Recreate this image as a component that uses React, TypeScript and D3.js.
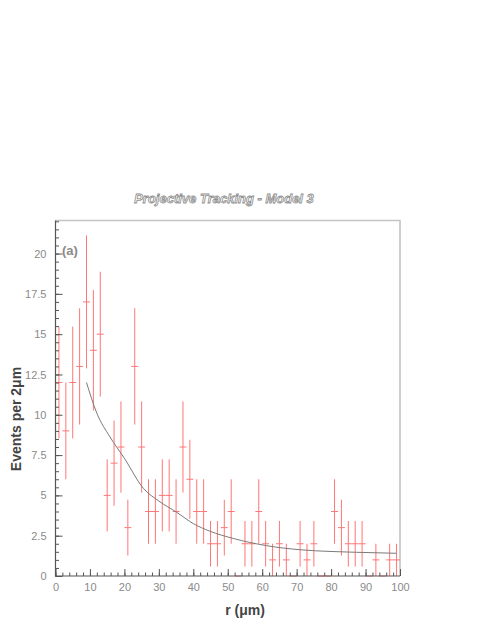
import { useEffect, useRef } from "react";
import * as d3 from "d3";

// histogram: 2 um bins, centers at 1, 3, ..., 99
const binCenters = [
  1, 3, 5, 7, 9, 11, 13, 15, 17, 19, 21, 23, 25, 27, 29, 31, 33, 35, 37, 39,
  41, 43, 45, 47, 49, 51, 53, 55, 57, 59, 61, 63, 65, 67, 69, 71, 73, 75, 77,
  79, 81, 83, 85, 87, 89, 91, 93, 95, 97, 99,
];
const counts = [
  12, 9, 12, 13, 17, 14, 15, 5, 7, 8, 3, 13, 8, 4, 4, 5, 5, 4, 8, 6, 4, 4, 2,
  2, 3, 4, 0, 2, 2, 4, 2, 1, 2, 1, 0, 2, 1, 2, 0, 0, 4, 3, 2, 2, 2, 0, 1, 0, 1,
  1,
];
const binHalfWidth = 1;

// fitted curve, points
const fitR = [9, 12, 15.8, 20, 25.5, 30, 35.2, 40, 44.8, 51.6, 61.3, 70.9, 80, 87.4, 99];
const fitY = [12, 10.1, 8.63, 7.3, 5.44, 4.65, 3.95, 3.25, 2.78, 2.33, 1.88, 1.63, 1.52, 1.47, 1.41];

const xTicks = [0, 10, 20, 30, 40, 50, 60, 70, 80, 90, 100];
const yTicks = [0, 2.5, 5, 7.5, 10, 12.5, 15, 17.5, 20];

const title = "Projective Tracking - Model 3";
const xTitle = "r (\u03bcm)";
const yTitle = "Events per 2\u03bcm";
const panelLabel = "(a)";

const App = () => {
  const svgRef = useRef<SVGSVGElement>(null);

  const width = 480;
  const height = 621;
  const frame = { left: 55.5, right: 400, top: 220.5, bottom: 576 };
  const font = "'Liberation Sans', Arial, Helvetica, sans-serif";

  useEffect(() => {
    const svg = d3.select(svgRef.current);
    svg.selectAll("*").remove();

    const x = d3.scaleLinear().domain([0, 100]).range([frame.left, frame.right]);
    const y = d3.scaleLinear().domain([0, 22.05]).range([frame.bottom, frame.top]);

    // frame (top/right light gray)
    svg
      .append("path")
      .attr("d", `M${frame.left},${frame.top}H${frame.right}V${frame.bottom}`)
      .attr("fill", "none")
      .attr("stroke", "#c4c4c4")
      .attr("stroke-width", 1.6);

    // error bars
    const bars = svg.append("g").attr("stroke", "#ff7676").attr("stroke-width", 1);
    binCenters.forEach((c, i) => {
      const n = counts[i];
      const err = Math.sqrt(n);
      bars
        .append("line")
        .attr("x1", x(c - binHalfWidth))
        .attr("x2", x(c + binHalfWidth))
        .attr("y1", y(n))
        .attr("y2", y(n));
      if (n > 0) {
        bars
          .append("line")
          .attr("x1", x(c))
          .attr("x2", x(c))
          .attr("y1", y(n + err))
          .attr("y2", y(Math.max(0, n - err)));
      }
    });

    // fit curve
    const fitLine = d3
      .line<number>()
      .x((d, i) => x(fitR[i]))
      .y((d) => y(d))
      .curve(d3.curveMonotoneX);
    svg
      .append("path")
      .attr("d", fitLine(fitY))
      .attr("fill", "none")
      .attr("stroke", "#7a7a7a")
      .attr("stroke-width", 1);

    // y axis
    const yMajor = d3
      .axisLeft(y)
      .tickValues(yTicks)
      .tickSize(-7)
      .tickPadding(9)
      .tickFormat((v) => `${v}`);
    const yMinor = d3
      .axisLeft(y)
      .tickValues(d3.range(0, 22.01, 0.5))
      .tickSize(-3.5)
      .tickFormat(() => "");
    const yg = svg.append("g").attr("transform", `translate(${frame.left},0)`);
    yg.call(yMinor);
    yg.append("g").call(yMajor);
    yg.selectAll(".domain").remove();
    yg.selectAll("line").attr("stroke", "#555");
    yg.selectAll("text")
      .attr("fill", "#8a8a8a")
      .attr("font-size", 11)
      .attr("font-family", font);

    // x axis
    const xMajor = d3
      .axisBottom(x)
      .tickValues(xTicks)
      .tickSize(-7)
      .tickPadding(7)
      .tickFormat((v) => `${v}`);
    const xMinor = d3
      .axisBottom(x)
      .tickValues(d3.range(0, 100.01, 2))
      .tickSize(-3.5)
      .tickFormat(() => "");
    const xg = svg.append("g").attr("transform", `translate(0,${frame.bottom})`);
    xg.call(xMinor);
    xg.append("g").call(xMajor);
    xg.selectAll(".domain").remove();
    xg.selectAll("line").attr("stroke", "#555");
    xg.selectAll("text")
      .attr("fill", "#8a8a8a")
      .attr("font-size", 11)
      .attr("font-family", font);

    // axis lines
    svg
      .append("path")
      .attr("d", `M${frame.left},${frame.top}V${frame.bottom}H${frame.right}`)
      .attr("fill", "none")
      .attr("stroke", "#555")
      .attr("stroke-width", 1.2);

    // titles
    svg
      .append("text")
      .attr("x", 224)
      .attr("y", 203)
      .attr("text-anchor", "middle")
      .attr("font-family", font)
      .attr("font-size", 13)
      .attr("font-style", "italic")
      .attr("font-weight", "bold")
      .attr("fill", "#fff")
      .attr("stroke", "#8c8c8c")
      .attr("stroke-width", 0.8)
      .text(title);

    svg
      .append("text")
      .attr("x", 245)
      .attr("y", 615)
      .attr("text-anchor", "middle")
      .attr("font-family", font)
      .attr("font-size", 14)
      .attr("font-weight", "bold")
      .attr("fill", "#444")
      .text(xTitle);

    svg
      .append("text")
      .attr("transform", `translate(21,419) rotate(-90)`)
      .attr("text-anchor", "middle")
      .attr("font-family", font)
      .attr("font-size", 14)
      .attr("font-weight", "bold")
      .attr("fill", "#444")
      .text(yTitle);

    svg
      .append("text")
      .attr("x", 62)
      .attr("y", 255)
      .attr("font-family", font)
      .attr("font-size", 13)
      .attr("font-weight", "bold")
      .attr("fill", "#8a8a8a")
      .text(panelLabel);
  }, []);

  return (
    <svg
      ref={svgRef}
      width={width}
      height={height}
      style={{ position: "absolute", left: 0, top: 0, background: "#fff" }}
    />
  );
};

export default App;
